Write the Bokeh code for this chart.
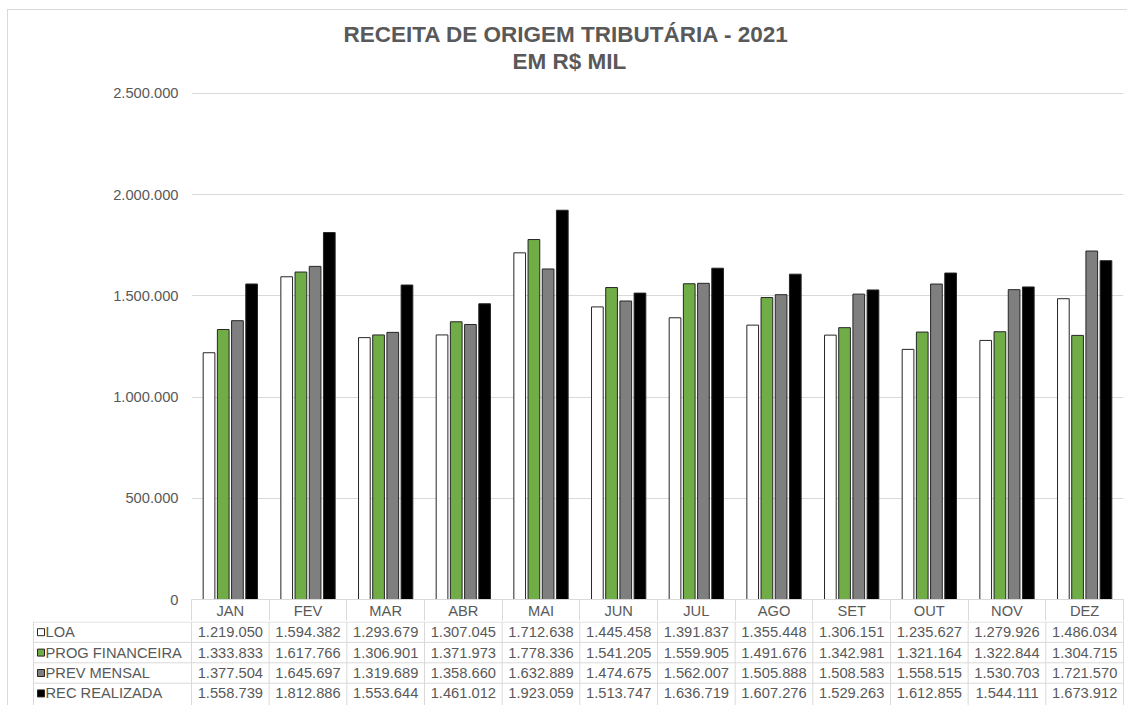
import numpy as np
from bokeh.plotting import figure
from bokeh.models import Range1d, FixedTicker, Title, CustomJSTickFormatter
from bokeh.layouts import column
from bokeh.embed import file_html
from bokeh.resources import INLINE
from bokeh.core.properties import value

# ---------------- data ----------------
MONTHS = ["JAN", "FEV", "MAR", "ABR", "MAI", "JUN", "JUL", "AGO", "SET", "OUT", "NOV", "DEZ"]
SERIES = ["LOA", "PROG FINANCEIRA", "PREV MENSAL", "REC REALIZADA"]
LOA = [1219050, 1594382, 1293679, 1307045, 1712638, 1445458, 1391837, 1355448, 1306151, 1235627, 1279926, 1486034]
PROG = [1333833, 1617766, 1306901, 1371973, 1778336, 1541205, 1559905, 1491676, 1342981, 1321164, 1322844, 1304715]
PREV = [1377504, 1645697, 1319689, 1358660, 1632889, 1474675, 1562007, 1505888, 1508583, 1558515, 1530703, 1721570]
REC = [1558739, 1812886, 1553644, 1461012, 1923059, 1513747, 1636719, 1607276, 1529263, 1612855, 1544111, 1673912]
Y_TICKS = [0, 500000, 1000000, 1500000, 2000000, 2500000]
TITLE_1 = "RECEITA DE ORIGEM TRIBUTÁRIA - 2021"
TITLE_2 = "EM R$ MIL"

# ---------------- style ----------------
COLORS = ["#FFFFFF", "#70AD47", "#7F7F7F", "#000000"]
FONT = "Liberation Sans"
TXT = "#595959"
LINE = "#D9D9D9"
EDGE = "#262626"
FS = "14.7px"

W = 1119
PLOT_L = 183
PLOT_W = 932
PLOT_R = W - PLOT_L - PLOT_W
TOP_B = 63          # frame top (figure px)
EXTRA_TOP = 20      # px of frame above the top tick
VAL_H = 507         # px from 0 to the top tick
FRAME_H = EXTRA_TOP + VAL_H
HEAD_H = 21
COL_PX = PLOT_W / len(MONTHS)
YMAX = Y_TICKS[-1]
BAR_W = 11.7 / COL_PX
BAR_STEP = 14.2 / COL_PX

TITLE_FS = "22.5px"
TITLE_OFF_1 = 152
TITLE_OFF_2 = 321


def fmt(v):
    return f"{v:,}".replace(",", ".")


# ---------------- chart ----------------
p = figure(width=W, height=TOP_B + FRAME_H + HEAD_H, output_backend="svg", toolbar_location=None,
           x_range=Range1d(0, len(MONTHS)), y_range=Range1d(0, YMAX * FRAME_H / VAL_H),
           min_border_left=PLOT_L, min_border_right=PLOT_R,
           min_border_top=TOP_B, min_border_bottom=HEAD_H)
p.frame_align = False
p.outline_line_color = None
p.background_fill_color = "white"
p.border_fill_color = "white"

# the figure's own title ends up outermost; the added one sits next to the frame
p.title.text = TITLE_1
p.title.align = "left"
p.title.offset = TITLE_OFF_1
p.title.standoff = 0
p.title.text_font = FONT
p.title.text_font_size = TITLE_FS
p.title.text_font_style = "bold"
p.title.text_color = TXT
p.add_layout(Title(text=TITLE_2, align="left", offset=TITLE_OFF_2, standoff=0,
                   text_font=FONT, text_font_size=TITLE_FS, text_font_style="bold",
                   text_color=TXT), "above")

idx = np.arange(len(MONTHS))
for k, (vals, col) in enumerate(zip([LOA, PROG, PREV, REC], COLORS)):
    p.vbar(x=idx + 0.5 + (k - 1.5) * BAR_STEP, top=vals, width=BAR_W,
           fill_color=col, line_color=EDGE, line_width=1)

xa = p.xaxis[0]
xa.ticker = FixedTicker(ticks=[float(i) + 0.5 for i in idx], minor_ticks=list(range(len(MONTHS) + 1)))
xa.formatter = CustomJSTickFormatter(args=dict(months=MONTHS), code="return months[Math.floor(tick)];")
xa.major_tick_line_color = None
xa.major_tick_out = 0
xa.major_tick_in = 0
xa.minor_tick_line_color = LINE
xa.minor_tick_out = HEAD_H
xa.minor_tick_in = 0
xa.axis_line_color = LINE
xa.major_label_standoff = 3 - HEAD_H
xa.major_label_text_font = FONT
xa.major_label_text_font_size = FS
xa.major_label_text_color = TXT

ya = p.yaxis[0]
ya.ticker = FixedTicker(ticks=Y_TICKS)
ya.formatter = CustomJSTickFormatter(
    code="return Math.round(tick).toString().replace(/\\B(?=(\\d{3})+(?!\\d))/g, '.');")
ya.axis_line_color = None
ya.major_tick_line_color = None
ya.minor_tick_line_color = None
ya.major_tick_out = 0
ya.major_tick_in = 0
ya.major_label_standoff = 13
ya.major_label_text_font = FONT
ya.major_label_text_font_size = FS
ya.major_label_text_color = TXT

p.ygrid.ticker = FixedTicker(ticks=Y_TICKS)
p.ygrid.grid_line_color = LINE
p.xgrid.grid_line_color = None

# ---------------- data table ----------------
ROW_PX = 20.4
TBL_H = 84
TBL_L = 24
nrow = len(SERIES)
lab_units = (PLOT_L - TBL_L) / COL_PX
y_top = nrow + 0.5 / ROW_PX
t = figure(width=W, height=TBL_H, output_backend="svg", toolbar_location=None,
           x_range=Range1d(-lab_units, len(MONTHS) + PLOT_R / COL_PX),
           y_range=Range1d(y_top - TBL_H / ROW_PX, y_top),
           x_axis_type=None, y_axis_type=None,
           min_border_left=TBL_L, min_border_right=0, min_border_top=0, min_border_bottom=0)
t.frame_align = False
t.outline_line_color = None
t.background_fill_color = "white"
t.border_fill_color = "white"

left_x = -lab_units + 1 / COL_PX
hy = list(range(nrow, 0, -1))
t.segment(x0=[left_x] * len(hy), x1=[len(MONTHS)] * len(hy), y0=hy, y1=hy, line_color=LINE, line_width=1)
vx = [left_x] + list(range(len(MONTHS) + 1))
t.segment(x0=vx, x1=vx, y0=[nrow] * len(vx), y1=[-1] * len(vx), line_color=LINE, line_width=1)

row_y = [nrow - r - 0.5 for r in range(nrow)]
t.scatter(x=[-lab_units + 8.5 / COL_PX] * nrow, y=row_y, marker="square", size=7,
          fill_color=COLORS, line_color=EDGE, line_width=1)
t.text(x=[-lab_units + 13 / COL_PX] * nrow, y=row_y, text=SERIES, text_font=value(FONT),
       text_font_size=FS, text_color=TXT, text_align="left", text_baseline="middle")

vx_all, vy_all, vt_all = [], [], []
for r, vals in enumerate([LOA, PROG, PREV, REC]):
    for i, v in enumerate(vals):
        vx_all.append(i + 0.5)
        vy_all.append(row_y[r])
        vt_all.append(fmt(v))
t.text(x=vx_all, y=vy_all, text=vt_all, text_font=value(FONT), text_font_size=FS,
       text_color=TXT, text_align="center", text_baseline="middle")

layout = column(p, t, styles={"margin-left": "7px", "margin-top": "9px",
                              "border-top": "1px solid #D9D9D9", "border-left": "1px solid #D9D9D9"})
open("out.html", "w").write(file_html(layout, INLINE))
